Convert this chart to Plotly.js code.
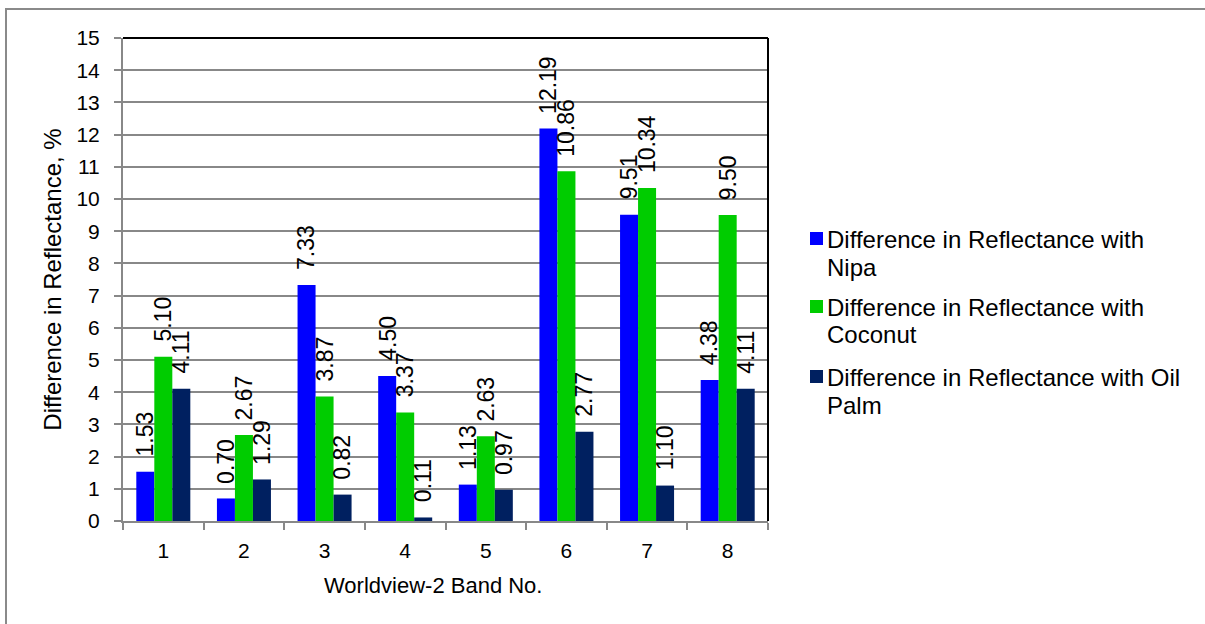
<!DOCTYPE html>
<html>
<head>
<meta charset="utf-8">
<script src="https://cdn.plot.ly/plotly-3.0.1.min.js"></script>
<style>
  html, body { margin: 0; padding: 0; background: #ffffff; overflow: hidden; }
  #wrap { position: relative; width: 1205px; height: 624px; }
  #chart { width: 1205px; height: 624px; }
  /* chart-area frame (only top and left edges fall inside the page) */
  #frame {
    position: absolute; left: 5px; top: 8px; width: 1300px; height: 700px;
    border-left: 2px solid #8a8a8a; border-top: 2px solid #8a8a8a;
    pointer-events: none;
  }
</style>
</head>
<body>
<div id="wrap">
  <div id="chart"></div>
  <div id="frame"></div>
</div>
<script>
// Worldview-2 band numbers
const bands = ['1', '2', '3', '4', '5', '6', '7', '8'];

// Difference in reflectance (%) per band
const nipa    = [1.53, 0.70, 7.33, 4.50, 1.13, 12.19, 9.51, 4.38];
const coconut = [5.10, 2.67, 3.87, 3.37, 2.63, 10.86, 10.34, 9.50];
const oilPalm = [4.11, 1.29, 0.82, 0.11, 0.97, 2.77, 1.10, 4.11];

const seriesValues = [nipa, coconut, oilPalm];
const seriesNames = [
  'Difference in Reflectance with<br>Nipa',
  'Difference in Reflectance with<br>Coconut',
  'Difference in Reflectance with Oil<br>Palm'
];
const seriesColors = ['#0000ff', '#00cc00', '#002060'];

const xTitle = 'Worldview-2 Band No.';
const yTitle = 'Difference in Reflectance, %';

const font = 'Arial, "Liberation Sans", sans-serif';
const TICK_FS = 21;
const LABEL_FS = 23;
const LEGEND_FS = 24;

// page geometry (pixels)
const W = 1205, H = 624;
const L = 123, R = 437, T = 38, B = 103;
const pw = W - L - R, ph = H - T - B;
const px = v => (v - L) / pw;
const py = v => (H - B - v) / ph;

const BARGAP = 0.33;
const barPx = pw / bands.length * (1 - BARGAP) / seriesValues.length;

const data = seriesValues.map((vals, i) => ({
  type: 'bar',
  x: bands,
  y: vals,
  name: seriesNames[i].replace('<br>', ' '),
  marker: { color: seriesColors[i], line: { width: 0 } },
  showlegend: false,
  hoverinfo: 'x+y'
}));

// value labels, rotated, sitting above each bar (x given as category index)
const annotations = [];
seriesValues.forEach((vals, s) => {
  vals.forEach((v, i) => {
    annotations.push({
      xref: 'x', yref: 'y',
      x: i, y: v,
      xshift: (s - 1) * barPx,
      yshift: 13,
      text: v.toFixed(2),
      textangle: -90,
      xanchor: 'center', yanchor: 'bottom',
      showarrow: false,
      font: { family: font, size: LABEL_FS, color: '#000000' }
    });
  });
});

// x-axis title, placed slightly left of the plot centre
annotations.push({
  xref: 'paper', yref: 'paper',
  x: px(433), y: py(585),
  xanchor: 'center', yanchor: 'middle',
  text: xTitle, showarrow: false,
  font: { family: font, size: 22, color: '#000000' }
});

// legend: coloured square + label lines per series
const legendRows = [239, 307, 377];
const legendLineStep = 28;
const shapes = [
  // plot frame: top and right edges
  { type: 'line', xref: 'paper', yref: 'paper', x0: 0, x1: 1, y0: 1, y1: 1, line: { color: '#000000', width: 2 } },
  { type: 'line', xref: 'paper', yref: 'paper', x0: 1, x1: 1, y0: 0, y1: 1, line: { color: '#000000', width: 2 } }
];
seriesNames.forEach((name, s) => {
  const cy = legendRows[s];
  shapes.push({
    type: 'rect', xref: 'paper', yref: 'paper',
    x0: px(810), x1: px(823), y0: py(cy - 7), y1: py(cy + 6),
    fillcolor: seriesColors[s], line: { width: 0 }
  });
  name.split('<br>').forEach((line, k) => {
    annotations.push({
      xref: 'paper', yref: 'paper',
      x: px(825), y: py(cy + k * legendLineStep),
      xanchor: 'left', yanchor: 'middle', align: 'left',
      text: line, showarrow: false,
      font: { family: font, size: LEGEND_FS, color: '#000000' }
    });
  });
});

const layout = {
  width: W,
  height: H,
  margin: { l: L, r: R, t: T, b: B, pad: 0 },
  paper_bgcolor: '#ffffff',
  plot_bgcolor: '#ffffff',
  font: { family: font, size: TICK_FS, color: '#000000' },
  barmode: 'group',
  bargap: BARGAP,
  bargroupgap: 0,
  showlegend: false,
  xaxis: {
    type: 'category',
    tickson: 'boundaries',
    ticks: 'outside',
    ticklen: 7,
    tickwidth: 2,
    tickcolor: '#888888',
    showline: true,
    linecolor: '#888888',
    linewidth: 2,
    showgrid: false,
    zeroline: false,
    ticklabelstandoff: 10,
    tickfont: { family: font, size: TICK_FS, color: '#000000' }
  },
  yaxis: {
    range: [0, 15],
    dtick: 1,
    tick0: 0,
    ticks: 'outside',
    ticklen: 7,
    tickwidth: 2,
    tickcolor: '#888888',
    showline: true,
    linecolor: '#888888',
    linewidth: 2,
    showgrid: true,
    gridcolor: '#888888',
    gridwidth: 2,
    zeroline: false,
    ticklabelstandoff: 10,
    tickfont: { family: font, size: TICK_FS, color: '#000000' },
    title: { text: yTitle, font: { family: font, size: 24, color: '#000000' }, standoff: 8 }
  },
  annotations: annotations,
  shapes: shapes
};

Plotly.newPlot('chart', data, layout, { displayModeBar: false, staticPlot: true });
</script>
</body>
</html>
